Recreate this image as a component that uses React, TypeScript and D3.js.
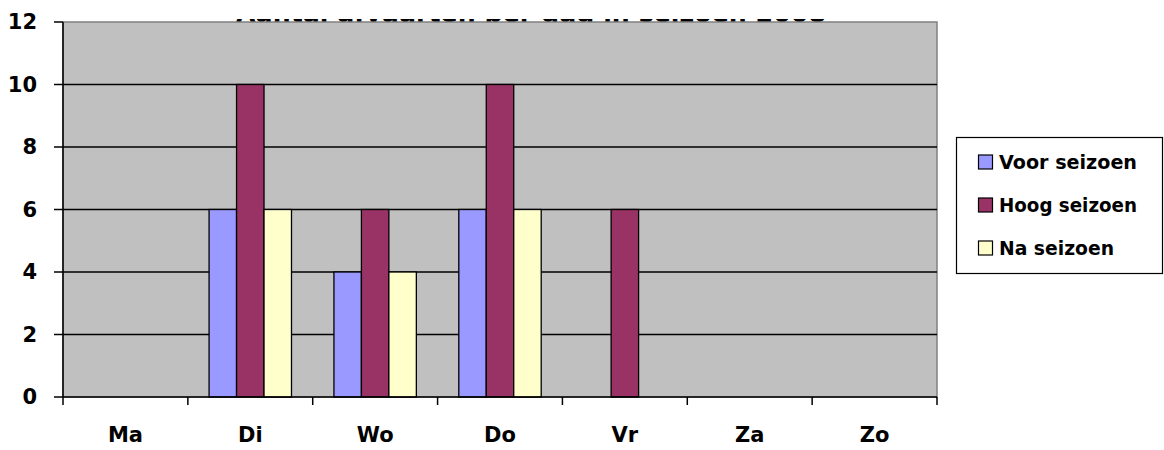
import React from "react";
import * as d3 from "d3";

const categories = ["Ma", "Di", "Wo", "Do", "Vr", "Za", "Zo"];
const seriesNames = ["Voor seizoen", "Hoog seizoen", "Na seizoen"];
const voorSeizoen = [0, 6, 4, 6, 0, 0, 0];
const hoogSeizoen = [0, 10, 6, 10, 6, 0, 0];
const naSeizoen = [0, 6, 4, 6, 0, 0, 0];
const yTicks = [0, 2, 4, 6, 8, 10, 12];
const titleText = "Aantal afvaarten per dag in seizoen 2008";

const colors = ["#9999ff", "#993366", "#ffffcc"];
const font = "Tahoma, 'DejaVu Sans', sans-serif";

export default function App() {
  const W = 1164, H = 450;
  const left = 63, right = 937, top = 22, bottom = 397;
  const x = d3.scaleBand<string>().domain(categories).range([left, right]).paddingInner(0).paddingOuter(0);
  const y = d3.scaleLinear().domain([0, 12]).range([bottom, top]);
  const series = [voorSeizoen, hoogSeizoen, naSeizoen];
  const groupW = x.bandwidth() * 0.66;
  const xs = d3.scaleBand<number>().domain([0, 1, 2]).range([0, groupW]);
  const offset = (x.bandwidth() - groupW) / 2;

  return (
    <svg width={W} height={H} style={{ position: "absolute", left: 0, top: 0, background: "#fff" }}>
      <text x={531} y={22} textAnchor="middle" fontFamily={font} fontWeight="bold" fontSize={24} fill="#000" textLength={590} lengthAdjust="spacingAndGlyphs">
        {titleText}
      </text>
      <rect x={0} y={0} width={W} height={19} fill="#fff" />
      <rect x={left} y={top} width={right - left} height={bottom - top} fill="#c0c0c0" stroke="#808080" strokeWidth={1.5} />
      {yTicks.filter(t => t > 0 && t < 12).map(t => (
        <line key={t} x1={left} x2={right} y1={y(t)} y2={y(t)} stroke="#000" strokeWidth={1.5} />
      ))}
      {series.map((vals, si) =>
        vals.map((v, ci) =>
          v > 0 ? (
            <rect key={`${si}-${ci}`} x={(x(categories[ci]) as number) + offset + (xs(si) as number)} y={y(v)} width={xs.bandwidth()} height={y(0) - y(v)} fill={colors[si]} stroke="#000" strokeWidth={1.3} />
          ) : null
        )
      )}
      <line x1={left} x2={left} y1={top} y2={bottom} stroke="#000" strokeWidth={1.5} />
      <line x1={left} x2={right} y1={bottom} y2={bottom} stroke="#000" strokeWidth={1.5} />
      {yTicks.map(t => (
        <g key={t}>
          <line x1={left - 9} x2={left} y1={y(t)} y2={y(t)} stroke="#000" strokeWidth={1.5} />
          <text x={37} y={y(t)} dy="0.35em" textAnchor="end" fontFamily={font} fontWeight="bold" fontSize={21} fill="#000">{t}</text>
        </g>
      ))}
      {[...categories.map(c => x(c) as number), right].map((px, i) => (
        <line key={i} x1={px} x2={px} y1={bottom} y2={bottom + 8} stroke="#000" strokeWidth={1.5} />
      ))}
      {categories.map(c => (
        <text key={c} x={(x(c) as number) + x.bandwidth() / 2} y={435} dy="0.35em" textAnchor="middle" fontFamily={font} fontWeight="bold" fontSize={21} fill="#000">{c}</text>
      ))}
      <rect x={956.5} y={137.5} width={206} height={136} fill="#fff" stroke="#000" strokeWidth={1.2} />
      {seriesNames.map((n, i) => (
        <g key={n} transform={`translate(0, ${162 + i * 43})`}>
          <rect x={978.5} y={-7} width={14} height={14} fill={colors[i]} stroke="#000" strokeWidth={1.2} />
          <text x={999} y={0} dy="0.35em" fontFamily={font} fontWeight="bold" fontSize={19} textLength={n.length * 11.5} lengthAdjust="spacingAndGlyphs" fill="#000">{n}</text>
        </g>
      ))}
    </svg>
  );
}
